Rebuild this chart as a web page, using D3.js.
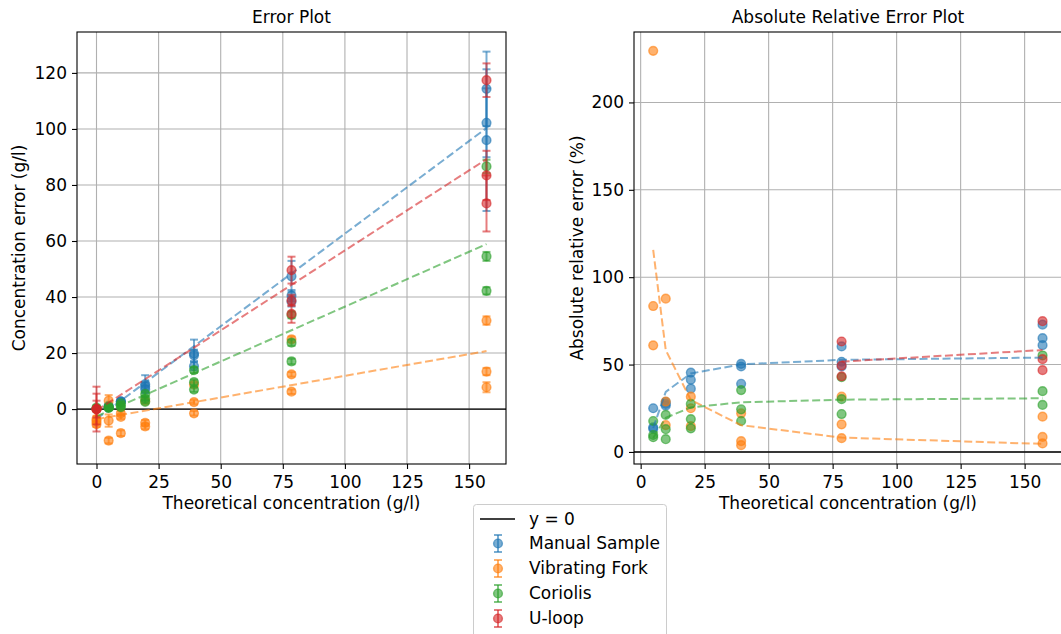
<!DOCTYPE html>
<html>
<head>
<meta charset="utf-8">
<script src="https://cdn.jsdelivr.net/npm/d3@7"></script>
<style>
  body { margin: 0; background: #fff; }
  svg { display: block; }
  text { font-family: "DejaVu Sans", sans-serif; fill: #000; }
</style>
</head>
<body>
<svg id="chart" width="1061" height="634"></svg>
<script>
// ---- series ----
const seriesNames = ["Manual Sample", "Vibrating Fork", "Coriolis", "U-loop"];
const seriesColors = ["#1f77b4", "#ff7f0e", "#2ca02c", "#d62728"];

// ---- concentration error (g/l) with standard deviation ----
const manualX   = [4.9, 4.9, 4.9, 9.8, 9.8, 9.8, 19.6, 19.6, 19.6, 39.25, 39.25, 39.25, 78.5, 78.5, 78.5, 157, 157, 157];
const manualErr = [1.22, 0.69, 0.65, 2.8, 2.7, 2.6, 8.9, 8.1, 7.1, 19.8, 19.2, 15.3, 47.4, 40.5, 38.4, 114.3, 102.2, 96.0];
const manualSd  = [0.6, 0.5, 0.5, 0.8, 0.7, 0.7, 3.2, 1.5, 1.2, 5.0, 2.0, 1.5, 5.5, 2.0, 1.8, 13.3, 12.3, 25.3];

const forkX   = [0, 0, 0, 4.9, 4.9, 4.9, 9.8, 9.8, 9.8, 19.6, 19.6, 19.6, 39.25, 39.25, 39.25, 78.5, 78.5, 78.5, 157, 157, 157];
const forkErr = [-3.6, -4.4, -5.4, 3.0, -4.1, -11.25, -8.6, -2.8, -1.5, -6.2, -4.9, 2.9, 8.7, 2.5, -1.5, 24.9, 12.4, 6.2, 31.6, 13.4, 7.8];
const forkSd  = [1.2, 1.0, 1.0, 2.0, 2.2, 1.0, 1.0, 0.8, 0.8, 1.0, 1.0, 0.8, 0.8, 0.8, 0.8, 1.0, 0.8, 0.8, 1.5, 1.3, 1.8];

const coriolisX   = [0, 0, 4.9, 4.9, 4.9, 9.8, 9.8, 9.8, 19.6, 19.6, 19.6, 39.25, 39.25, 39.25, 78.5, 78.5, 78.5, 157, 157, 157];
const coriolisErr = [0.5, 0.1, 0.87, 0.48, 0.41, 2.08, 1.27, 0.71, 5.4, 3.7, 2.6, 13.9, 9.6, 6.95, 33.6, 23.7, 17.0, 86.6, 54.5, 42.2];
const coriolisSd  = [0.8, 0.6, 0.5, 0.4, 0.4, 0.6, 0.5, 0.4, 0.8, 0.7, 0.6, 1.0, 0.9, 0.8, 1.2, 1.1, 1.0, 2.4, 1.6, 1.3];

const uloopX   = [0, 0, 0, 78.5, 78.5, 78.5, 157, 157, 157];
const uloopErr = [0, 0, 0, 49.6, 38.8, 34.0, 117.4, 83.4, 73.4];
const uloopSd  = [8.0, 5.5, 3.0, 4.8, 2.0, 3.2, 6.0, 8.8, 10.0];

// linear fits of the concentration error, evaluated at both ends
const fitX        = [0, 157];
const manualFit   = [-3.5, 100.3];
const forkFit     = [-3.6, 20.7];
const coriolisFit = [-2.6, 58.9];
const uloopFit    = [-0.5, 89.2];

// ---- absolute relative error (%) ----
const manualRel   = [25.0, 14.1, 13.3, 28.6, 27.5, 26.5, 45.4, 41.3, 36.2, 50.4, 48.9, 39.0, 60.4, 51.6, 48.9, 72.8, 65.1, 61.1];
const forkRelX    = [4.9, 4.9, 4.9, 9.8, 9.8, 9.8, 19.6, 19.6, 19.6, 39.25, 39.25, 39.25, 78.5, 78.5, 78.5, 157, 157, 157];
const forkRel     = [229.5, 83.5, 61.0, 87.7, 28.8, 15.4, 31.6, 25.0, 14.8, 22.1, 6.2, 3.9, 31.7, 15.8, 7.9, 20.2, 8.6, 4.9];
const coriolisRelX = [4.9, 4.9, 4.9, 9.8, 9.8, 9.8, 19.6, 19.6, 19.6, 39.25, 39.25, 39.25, 78.5, 78.5, 78.5, 157, 157, 157];
const coriolisRel = [17.7, 9.7, 8.4, 21.2, 13.0, 7.3, 27.5, 18.8, 13.5, 35.4, 24.4, 17.7, 42.8, 30.2, 21.7, 55.2, 34.8, 26.9];
const uloopRelX   = [78.5, 78.5, 78.5, 157, 157, 157];
const uloopRel    = [63.2, 49.4, 43.3, 74.8, 53.1, 46.8];

// relative error of the fitted models
const curveX         = [4.9, 9.8, 19.6, 39.25, 78.5, 157];
const manualCurve    = [13.7, 34.4, 44.9, 50.1, 52.7, 54.0];
const forkCurve      = [115.6, 58.3, 29.7, 15.3, 8.2, 4.6];
const coriolisCurve  = [8.0, 19.5, 25.5, 28.4, 29.9, 30.7];
const uloopCurveX    = [78.5, 157];
const uloopCurve     = [51.7, 58.3];

// tick values
const xTicks = [0, 25, 50, 75, 100, 125, 150];
const yTicksLeft = [0, 20, 40, 60, 80, 100, 120];
const yTicksRight = [0, 50, 100, 150, 200];

// ---- assembled series ----
const errorSeries = [
  { x: manualX, y: manualErr, sd: manualSd, fx: fitX, fy: manualFit },
  { x: forkX, y: forkErr, sd: forkSd, fx: fitX, fy: forkFit },
  { x: coriolisX, y: coriolisErr, sd: coriolisSd, fx: fitX, fy: coriolisFit },
  { x: uloopX, y: uloopErr, sd: uloopSd, fx: fitX, fy: uloopFit }
];
const relSeries = [
  { x: manualX, y: manualRel, fx: curveX, fy: manualCurve },
  { x: forkRelX, y: forkRel, fx: curveX, fy: forkCurve },
  { x: coriolisRelX, y: coriolisRel, fx: curveX, fy: coriolisCurve },
  { x: uloopRelX, y: uloopRel, fx: uloopCurveX, fy: uloopCurve }
];

const svg = d3.select("#chart");
const FS = 17;
const ALPHA = 0.6;
const R = 4.4;

function panel(opts) {
  const { left, right, top, bottom, xDomain, yDomain, yTicks, title, yLabel, id } = opts;
  const x = d3.scaleLinear().domain(xDomain).range([left, right]);
  const y = d3.scaleLinear().domain(yDomain).range([bottom, top]);
  const g = svg.append("g");

  svg.append("clipPath").attr("id", id).append("rect")
    .attr("x", left).attr("y", top).attr("width", right - left).attr("height", bottom - top);

  // grid
  const grid = g.append("g").attr("clip-path", `url(#${id})`);
  grid.selectAll(".gx").data(xTicks).join("line")
    .attr("x1", d => x(d)).attr("x2", d => x(d)).attr("y1", top).attr("y2", bottom)
    .attr("stroke", "#b0b0b0").attr("stroke-width", 1.1);
  grid.selectAll(".gy").data(yTicks).join("line")
    .attr("x1", left).attr("x2", right).attr("y1", d => y(d)).attr("y2", d => y(d))
    .attr("stroke", "#b0b0b0").attr("stroke-width", 1.1);

  // y = 0 reference
  g.append("line").attr("clip-path", `url(#${id})`)
    .attr("x1", left).attr("x2", right).attr("y1", y(0)).attr("y2", y(0))
    .attr("stroke", "#000").attr("stroke-width", 1.4);

  // axes
  const ax = g.append("g").attr("transform", `translate(0,${bottom})`)
    .call(d3.axisBottom(x).tickValues(xTicks).tickSize(5).tickPadding(7).tickSizeOuter(0));
  const ay = g.append("g").attr("transform", `translate(${left},0)`)
    .call(d3.axisLeft(y).tickValues(yTicks).tickSize(5).tickPadding(5).tickSizeOuter(0));
  [ax, ay].forEach(a => {
    a.select(".domain").remove();
    a.selectAll("text").attr("font-size", FS).attr("font-family", "DejaVu Sans");
    a.selectAll("line").attr("stroke-width", 1.1);
  });

  // frame
  g.append("rect").attr("x", left).attr("y", top).attr("width", right - left).attr("height", bottom - top)
    .attr("fill", "none").attr("stroke", "#000").attr("stroke-width", 1.1);

  g.append("text").attr("x", (left + right) / 2).attr("y", top - 9)
    .attr("text-anchor", "middle").attr("font-size", FS).text(title);
  g.append("text").attr("x", (left + right) / 2).attr("y", 509)
    .attr("text-anchor", "middle").attr("font-size", FS).text("Theoretical concentration (g/l)");
  g.append("text").attr("transform", `translate(${opts.yLabelX},${(top + bottom) / 2}) rotate(-90)`)
    .attr("text-anchor", "middle").attr("font-size", FS).text(yLabel);

  const plot = svg.append("g").attr("clip-path", `url(#${id})`);
  return { x, y, plot };
}

// ---- left: concentration error ----
const P1 = panel({
  id: "clipL", left: 77, right: 506, top: 32, bottom: 464,
  xDomain: [-7.85, 164.85], yDomain: [-19.6, 134.6], yTicks: yTicksLeft,
  title: "Error Plot", yLabel: "Concentration error (g/l)", yLabelX: 25
});

errorSeries.forEach((s, i) => {
  const c = seriesColors[i];
  const gs = P1.plot.append("g");
  const pts = s.x.map((xv, k) => ({ x: xv, y: s.y[k], sd: s.sd[k] }));
  const eb = gs.selectAll("g.eb").data(pts).join("g");
  eb.append("line")
    .attr("x1", d => P1.x(d.x)).attr("x2", d => P1.x(d.x))
    .attr("y1", d => P1.y(d.y - d.sd)).attr("y2", d => P1.y(d.y + d.sd))
    .attr("stroke", c).attr("stroke-opacity", ALPHA).attr("stroke-width", 2);
  [-1, 1].forEach(sg => {
    eb.append("line")
      .attr("x1", d => P1.x(d.x) - 4).attr("x2", d => P1.x(d.x) + 4)
      .attr("y1", d => P1.y(d.y + sg * d.sd)).attr("y2", d => P1.y(d.y + sg * d.sd))
      .attr("stroke", c).attr("stroke-opacity", ALPHA).attr("stroke-width", 2);
  });
  eb.append("circle")
    .attr("cx", d => P1.x(d.x)).attr("cy", d => P1.y(d.y)).attr("r", R)
    .attr("fill", c).attr("fill-opacity", ALPHA)
    .attr("stroke", c).attr("stroke-opacity", ALPHA).attr("stroke-width", 1.4);
  const line = d3.line().x(d => P1.x(d[0])).y(d => P1.y(d[1]));
  gs.append("path").datum(s.fx.map((xv, k) => [xv, s.fy[k]]))
    .attr("d", line).attr("fill", "none")
    .attr("stroke", c).attr("stroke-opacity", ALPHA).attr("stroke-width", 2)
    .attr("stroke-dasharray", "8,3.5");
});

// ---- right: absolute relative error ----
const P2 = panel({
  id: "clipR", left: 634, right: 1062, top: 32, bottom: 464,
  xDomain: [-2.6, 164.6], yDomain: [-6.9, 240.3], yTicks: yTicksRight,
  title: "Absolute Relative Error Plot", yLabel: "Absolute relative error (%)", yLabelX: 583
});

relSeries.forEach((s, i) => {
  const c = seriesColors[i];
  const gs = P2.plot.append("g");
  gs.selectAll("circle").data(s.x.map((xv, k) => [xv, s.y[k]])).join("circle")
    .attr("cx", d => P2.x(d[0])).attr("cy", d => P2.y(d[1])).attr("r", R)
    .attr("fill", c).attr("fill-opacity", ALPHA)
    .attr("stroke", c).attr("stroke-opacity", ALPHA).attr("stroke-width", 1.4);
});
relSeries.forEach((s, i) => {
  const line = d3.line().x(d => P2.x(d[0])).y(d => P2.y(d[1]));
  P2.plot.append("path").datum(s.fx.map((xv, k) => [xv, s.fy[k]]))
    .attr("d", line).attr("fill", "none")
    .attr("stroke", seriesColors[i]).attr("stroke-opacity", ALPHA).attr("stroke-width", 2)
    .attr("stroke-dasharray", "8,3.5");
});

// ---- legend ----
const lg = svg.append("g");
lg.append("rect").attr("x", 473.5).attr("y", 504.5).attr("width", 193).attr("height", 140)
  .attr("rx", 3).attr("fill", "#fff").attr("fill-opacity", 0.8).attr("stroke", "#cccccc").attr("stroke-width", 1);
lg.append("line").attr("x1", 480).attr("x2", 515).attr("y1", 519).attr("y2", 519)
  .attr("stroke", "#000").attr("stroke-width", 1.4);
lg.append("text").attr("x", 529).attr("y", 519).attr("dy", "0.35em").attr("font-size", FS).text("y = 0");
seriesNames.forEach((name, i) => {
  const cy = 543.5 + i * 25;
  const c = seriesColors[i];
  const h = lg.append("g");
  h.append("line").attr("x1", 498).attr("x2", 498).attr("y1", cy - 8.5).attr("y2", cy + 8.5)
    .attr("stroke", c).attr("stroke-opacity", ALPHA).attr("stroke-width", 2);
  [-8.5, 8.5].forEach(o => h.append("line").attr("x1", 494).attr("x2", 502).attr("y1", cy + o).attr("y2", cy + o)
    .attr("stroke", c).attr("stroke-opacity", ALPHA).attr("stroke-width", 2));
  h.append("circle").attr("cx", 498).attr("cy", cy).attr("r", R)
    .attr("fill", c).attr("fill-opacity", ALPHA).attr("stroke", c).attr("stroke-opacity", ALPHA).attr("stroke-width", 1.4);
  lg.append("text").attr("x", 529).attr("y", cy).attr("dy", "0.35em").attr("font-size", FS).text(name);
});
</script>
</body>
</html>
